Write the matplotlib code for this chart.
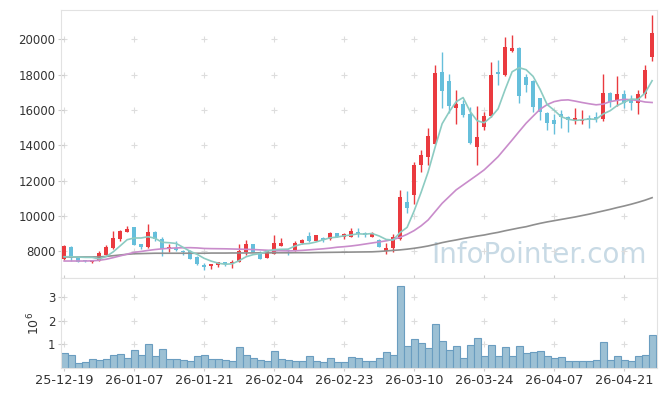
import numpy as np
import pandas as pd
import matplotlib
matplotlib.use('Agg')
import matplotlib.pyplot as plt

# x axis labels (every 10th trading day)
tick_idx = [0, 10, 20, 30, 40, 50, 60, 70, 80]
tick_labels = ['25-12-19', '26-01-07', '26-01-21', '26-02-04', '26-02-23',
               '26-03-10', '26-03-24', '26-04-07', '26-04-21']

opens = [7560, 8270, 7670, 7520, 7400, 7480, 7800, 8180, 8690, 9120,
         9380, 8420, 8255, 9100, 8690, 8160, 8215, 8040, 8040, 7700,
         7240, 7180, 7250, 7400, 7370, 7400, 7990, 8420, 7990, 7650,
         7860, 8330, 8085, 8045, 8460, 8880, 8590, 8780, 8690, 9030,
         8840, 8840, 9080, 9030, 8840, 8650, 8000, 8180, 8690, 10800,
         11200, 12910, 13320, 14090, 18150, 17640, 16134, 16341, 15776, 13928,
         15060, 15662, 18150, 17981, 19358, 19527, 17887, 17660, 16661, 15850,
         15436, 15775, 15587, 15455, 15380, 15549, 15600, 15474, 16944, 16529,
         16887, 16567, 16379, 16887, 19018]
highs = [8370, 8300, 7700, 7540, 7540, 8050, 8370, 9160, 9220, 9440,
         9400, 8450, 9560, 9150, 8800, 8440, 8610, 8060, 8060, 7720,
         7330, 7310, 7430, 7420, 7520, 8440, 8650, 8440, 8000, 8100,
         8930, 8760, 8140, 8580, 8680, 9120, 8950, 8830, 9080, 9050,
         9060, 9310, 9300, 9120, 9100, 8700, 8460, 8970, 11460, 11420,
         13030, 13740, 14970, 18550, 19265, 18020, 17130, 16560, 16190, 16228,
         15900, 18700, 18830, 20110, 20243, 19560, 18040, 17700, 16700, 15870,
         15780, 16000, 15650, 16130, 16000, 15700, 15880, 18038, 17000, 17943,
         17132, 16850, 17100, 18550, 21374]
lows = [7520, 7480, 7380, 7420, 7330, 7460, 7780, 8150, 8580, 9080,
        8350, 8160, 8200, 8580, 7760, 7990, 8020, 7790, 7560, 7260,
        6950, 6990, 7140, 7200, 7080, 7380, 7800, 7960, 7560, 7640,
        7840, 8300, 7800, 8000, 8440, 8560, 8570, 8560, 8650, 8810,
        8690, 8800, 8800, 8800, 8800, 8250, 7860, 7990, 8650, 10200,
        10690, 12500, 12890, 14050, 16100, 15850, 15190, 15590, 14100, 12892,
        14870, 15620, 17415, 17900, 19300, 16379, 17038, 15907, 15436, 14870,
        14645, 14965, 14777, 15210, 15210, 14990, 15300, 15400, 16190, 16230,
        16100, 16000, 15757, 16700, 18791]
closes = [8320, 7610, 7430, 7440, 7520, 7915, 8255, 8745, 9140, 9270,
          8390, 8270, 9100, 8690, 8140, 8270, 8070, 7990, 7580, 7280,
          7140, 7290, 7400, 7280, 7400, 8030, 8400, 7990, 7580, 8080,
          8460, 8500, 8030, 8480, 8650, 8590, 8930, 8650, 9045, 8840,
          8970, 9160, 8980, 8940, 9030, 8270, 8180, 8800, 11080, 10480,
          12910, 13460, 14530, 18100, 17095, 16246, 16341, 15719, 14155, 14494,
          15660, 17981, 18037, 19584, 19527, 16812, 17415, 16152, 15907, 15247,
          15210, 15587, 15436, 15549, 15436, 15436, 15490, 16944, 16473, 16887,
          16379, 16379, 16887, 18263, 20356]
# volume in millions
volumes = [0.63, 0.55, 0.21, 0.25, 0.38, 0.34, 0.38, 0.55, 0.59, 0.42,
           0.76, 0.55, 1.01, 0.50, 0.80, 0.38, 0.38, 0.34, 0.29, 0.50,
           0.55, 0.38, 0.38, 0.34, 0.29, 0.88, 0.55, 0.42, 0.34, 0.29,
           0.71, 0.38, 0.34, 0.29, 0.29, 0.50, 0.29, 0.25, 0.41, 0.24,
           0.24, 0.45, 0.41, 0.28, 0.28, 0.41, 0.66, 0.57, 3.49, 0.95,
           1.25, 1.08, 0.87, 1.88, 1.16, 0.76, 0.95, 0.41, 0.99, 1.29,
           0.53, 0.99, 0.53, 0.91, 0.53, 0.95, 0.62, 0.66, 0.74, 0.53,
           0.41, 0.45, 0.28, 0.28, 0.28, 0.28, 0.36, 1.12, 0.36, 0.53,
           0.32, 0.28, 0.49, 0.57, 1.41]
# 20-day and 120-day moving averages
ma20 = [7460, 7460, 7460, 7460, 7470, 7500, 7560, 7650, 7750, 7850,
        7950, 8000, 8060, 8110, 8150, 8180, 8200, 8210, 8215, 8200,
        8170, 8160, 8155, 8150, 8140, 8130, 8120, 8110, 8090, 8070,
        8050, 8040, 8030, 8040, 8060, 8090, 8120, 8150, 8190, 8240,
        8270, 8310, 8360, 8420, 8480, 8540, 8600, 8680, 8800, 8970,
        9180, 9450, 9780, 10250, 10720, 11100, 11480, 11760, 12040, 12320,
        12610, 12980, 13360, 13830, 14300, 14780, 15250, 15650, 16040, 16300,
        16470, 16550, 16570, 16500, 16420, 16350, 16290, 16330, 16470, 16540,
        16600, 16580, 16530, 16450, 16420]
ma120 = [7690, 7690, 7690, 7690, 7690, 7690, 7720, 7760, 7800, 7840,
         7870, 7880, 7890, 7900, 7900, 7900, 7900, 7900, 7900, 7900,
         7900, 7910, 7910, 7910, 7915, 7915, 7915, 7920, 7920, 7920,
         7925, 7925, 7925, 7930, 7930, 7930, 7940, 7945, 7950, 7955,
         7960, 7965, 7970, 7975, 7980, 8000, 8030, 8060, 8090, 8130,
         8180, 8240, 8310, 8400, 8500, 8580, 8650, 8730, 8800, 8870,
         8930, 9010, 9080, 9170, 9250, 9330, 9400, 9500, 9590, 9670,
         9740, 9810, 9880, 9950, 10030, 10110, 10200, 10290, 10380, 10480,
         10570, 10670, 10780, 10900, 11040]
# closes before the first visible day (needed for the 5-day average)
prior_close = [7610, 7520, 7530, 7530]

ma5 = pd.Series(prior_close + closes).rolling(5).mean().values[len(prior_close):]

up_col = '#ea3a3f'
down_col = '#66bfdb'
grid_col = '#dddddd'
spine_col = '#e2e2e2'

o = np.array(opens)
h = np.array(highs)
l = np.array(lows)
c = np.array(closes)
x = np.arange(len(c))
colors = np.where(c >= o, up_col, down_col)

fig = plt.figure(figsize=(6.65, 3.96), dpi=100)
ax = fig.add_axes([61/665, 1-278/396, 596/665, 268/396])
axv = fig.add_axes([61/665, 1-368/396, 596/665, 90/396], sharex=ax)

# candles
ax.vlines(x, l, h, colors=colors, linewidth=1.0, zorder=2)
body = np.maximum(np.abs(c - o), 40)
ax.bar(x, body, bottom=np.minimum(o, c), width=0.62, color=colors,
       linewidth=0, zorder=3)

ax.plot(x, ma120, color='#8f8f8f', lw=1.2, zorder=4)
ax.plot(x, ma20, color='#c98ccb', lw=1.2, zorder=4)
ax.plot(x, ma5, color='#8ccbc2', lw=1.2, zorder=4)

ax.set_xlim(-0.45, 84.7)
ax.set_ylim(6500, 21650)
yt = np.arange(8000, 20001, 2000)
ax.set_yticks(yt)
ax.set_xticks(tick_idx)
ax.tick_params(axis='x', labelbottom=False)

# "+" grid marks at tick intersections
gx, gy = np.meshgrid(tick_idx, yt)
ax.plot(gx.ravel(), gy.ravel(), '+', color=grid_col, ms=5, mew=0.8, zorder=1)

ax.text(0.983, 0.056, 'InfoPointer.com', transform=ax.transAxes,
        ha='right', va='baseline', fontsize=20, color='#c8dae5', zorder=0)

# volume
axv.bar(x, volumes, width=1.0, color='#9cc0d4', edgecolor='#6a9dc0',
        linewidth=0.8, zorder=2)
axv.set_ylim(0, 3.82)
axv.set_yticks([1, 2, 3])
axv.set_xticks(tick_idx)
axv.set_xticklabels(tick_labels)
axv.set_ylabel('$10^6$', fontsize=9, color='#333333', labelpad=4)
vx, vy = np.meshgrid(tick_idx, [1, 2, 3])
axv.plot(vx.ravel(), vy.ravel(), '+', color=grid_col, ms=5, mew=0.8, zorder=1)

for a in (ax, axv):
    for s in a.spines.values():
        s.set_color(spine_col)
    a.tick_params(direction='inout', length=4, color='#cccccc',
                  labelcolor='#333333', labelsize=8.5, pad=2)
axv.tick_params(axis='x', labelsize=9.3)

fig.savefig('out.png', dpi=100)
